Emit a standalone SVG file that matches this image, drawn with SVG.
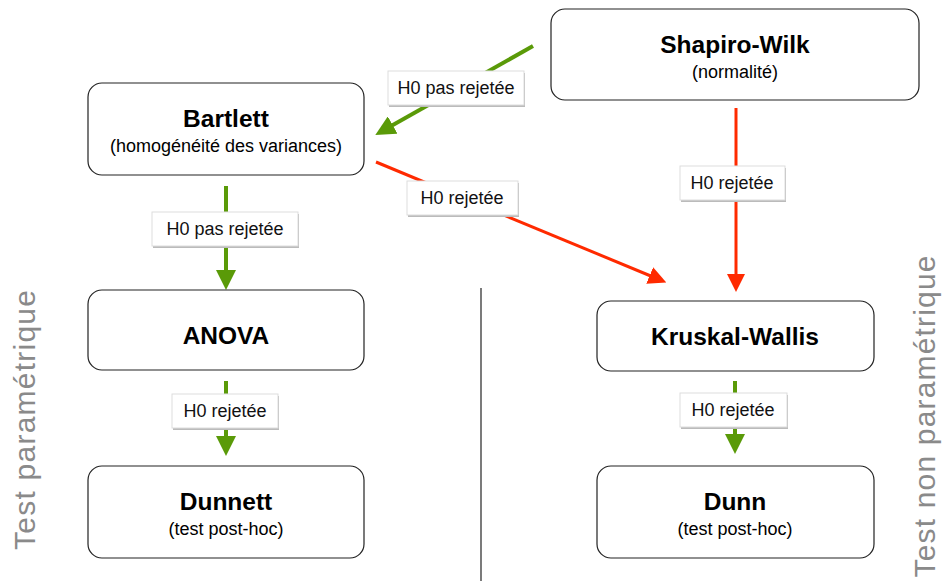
<svg xmlns="http://www.w3.org/2000/svg" width="944" height="581" viewBox="0 0 944 581">
<style>
.box{fill:#fff;stroke:#222;stroke-width:1.2}
.t{font-family:"Liberation Sans",Arial,sans-serif;font-weight:bold;font-size:24.5px;fill:#000;text-anchor:middle}
.s{font-family:"Liberation Sans",Arial,sans-serif;font-size:18px;fill:#000;text-anchor:middle}
.lb{fill:#fff;stroke:#ddd;stroke-width:1}
.sh{fill:#bbb}
.lt{font-family:"Liberation Sans",Arial,sans-serif;font-size:18px;fill:#111;text-anchor:middle}
.g{stroke:#5a9a08;stroke-width:4;fill:none}
.r{stroke:#ff2a00;stroke-width:3;fill:none}
.side{font-family:"Liberation Sans",Arial,sans-serif;font-size:30px;fill:#8a8a8a;text-anchor:middle}
</style>
<defs>
<marker id="ag" markerWidth="5" markerHeight="5" refX="2.5" refY="2.5" orient="auto" markerUnits="strokeWidth" viewBox="0 0 5 5"><path d="M0,0 L5,2.5 L0,5 z" fill="#5a9a08"/></marker>
<marker id="ar" markerWidth="6" markerHeight="6" refX="3" refY="3" orient="auto" markerUnits="strokeWidth" viewBox="0 0 6 6"><path d="M0,0 L6,3 L0,6 z" fill="#ff2a00"/></marker>
</defs>
<g id="divider"><line x1="481" y1="288" x2="481" y2="581" stroke="#222" stroke-width="1.2"/></g>
<g id="side-left"><text class="side" transform="translate(35,420) rotate(-90)" textLength="260">Test paramétrique</text></g>
<g id="side-right"><text class="side" transform="translate(935,416.5) rotate(-90)" textLength="322">Test non paramétrique</text></g>
<g id="connectors">
<line class="g" x1="533" y1="46" x2="384" y2="130" marker-end="url(#ag)"/>
<line class="r" x1="376" y1="162" x2="658" y2="279" marker-end="url(#ar)"/>
<line class="r" x1="736" y1="108" x2="736" y2="283" marker-end="url(#ar)"/>
<line class="g" x1="226" y1="186" x2="226" y2="280" marker-end="url(#ag)"/>
<line class="g" x1="226" y1="381" x2="226" y2="446" marker-end="url(#ag)"/>
<line class="g" x1="735" y1="381" x2="735" y2="444" marker-end="url(#ag)"/>
</g>
<g id="label1"><rect class="sh" x="389" y="73" width="136" height="34"/><rect class="lb" x="388" y="71" width="136" height="34"/><text class="lt" x="456" y="94">H0 pas rejetée</text></g>
<g id="label2"><rect class="sh" x="408" y="183" width="111" height="34"/><rect class="lb" x="407" y="181" width="111" height="34"/><text class="lt" x="462" y="204">H0 rejetée</text></g>
<g id="label3"><rect class="sh" x="681" y="168" width="105" height="34"/><rect class="lb" x="680" y="166" width="105" height="34"/><text class="lt" x="732" y="189">H0 rejetée</text></g>
<g id="label4"><rect class="sh" x="153" y="214" width="146" height="34"/><rect class="lb" x="152" y="212" width="146" height="34"/><text class="lt" x="225" y="235">H0 pas rejetée</text></g>
<g id="label5"><rect class="sh" x="173" y="396" width="106" height="34"/><rect class="lb" x="172" y="394" width="106" height="34"/><text class="lt" x="225" y="417">H0 rejetée</text></g>
<g id="label6"><rect class="sh" x="681" y="395" width="107" height="34"/><rect class="lb" x="680" y="393" width="107" height="34"/><text class="lt" x="733" y="416">H0 rejetée</text></g>
<g id="shapiro"><rect class="box" x="551" y="9" width="368" height="91" rx="14"/><text class="t" x="735" y="53">Shapiro-Wilk</text><text class="s" x="735" y="78">(normalité)</text></g>
<g id="bartlett"><rect class="box" x="88" y="83" width="276" height="92" rx="14"/><text class="t" x="226" y="127">Bartlett</text><text class="s" x="226" y="152">(homogénéité des variances)</text></g>
<g id="anova"><rect class="box" x="88" y="290" width="276" height="80" rx="14"/><text class="t" x="226" y="344">ANOVA</text></g>
<g id="kruskal"><rect class="box" x="597" y="301" width="277" height="70" rx="14"/><text class="t" x="735" y="345">Kruskal-Wallis</text></g>
<g id="dunnett"><rect class="box" x="88" y="466" width="276" height="92" rx="14"/><text class="t" x="226" y="510">Dunnett</text><text class="s" x="226" y="535">(test post-hoc)</text></g>
<g id="dunn"><rect class="box" x="597" y="466" width="277" height="92" rx="14"/><text class="t" x="735" y="510">Dunn</text><text class="s" x="735" y="535">(test post-hoc)</text></g>
</svg>
